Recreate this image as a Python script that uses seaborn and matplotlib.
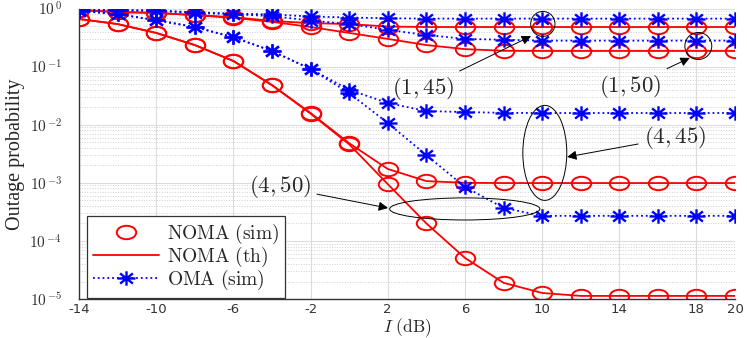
import numpy as np
import pandas as pd
import matplotlib
matplotlib.use("Agg")
import matplotlib.pyplot as plt
import seaborn as sns
from matplotlib.lines import Line2D
from matplotlib.patches import Ellipse
from matplotlib.path import Path
from matplotlib.transforms import Affine2D
from matplotlib.ticker import FixedLocator, LogLocator, NullFormatter

# --- data ---
I_db = [-14, -12, -10, -8, -6, -4, -2, 0, 2, 4, 6, 8, 10, 12, 14, 16, 18, 20]

noma_1_45 = [0.94, 0.87, 0.84, 0.77, 0.71, 0.61, 0.56, 0.54, 0.49, 0.48,
             0.48, 0.48, 0.48, 0.48, 0.48, 0.48, 0.48, 0.48]
noma_1_50 = [0.94, 0.87, 0.84, 0.77, 0.69, 0.59, 0.48, 0.38, 0.30, 0.235,
             0.20, 0.187, 0.186, 0.186, 0.186, 0.186, 0.186, 0.186]
noma_4_45 = [0.66, 0.54, 0.38, 0.235, 0.125, 0.048, 0.0159, 0.0048, 0.00173, 0.00107,
             0.00100, 0.00099, 0.00099, 0.00099, 0.00099, 0.00099, 0.00099, 0.00099]
noma_4_50 = [0.66, 0.54, 0.38, 0.235, 0.125, 0.048, 0.0155, 0.0046, 0.00095, 0.000200,
             5.1e-5, 1.9e-5, 1.27e-5, 1.13e-5, 1.13e-5, 1.13e-5, 1.13e-5, 1.13e-5]

oma_1_45 = [0.95, 0.94, 0.93, 0.86, 0.82, 0.79, 0.73, 0.70, 0.68, 0.67,
            0.67, 0.67, 0.67, 0.67, 0.67, 0.67, 0.67, 0.67]
oma_1_50 = [0.94, 0.93, 0.91, 0.84, 0.80, 0.74, 0.62, 0.54, 0.43, 0.35,
            0.30, 0.29, 0.28, 0.28, 0.28, 0.28, 0.28, 0.28]
oma_4_45 = [0.91, 0.80, 0.63, 0.48, 0.32, 0.186, 0.091, 0.040, 0.0236, 0.0172,
            0.0165, 0.0160, 0.0159, 0.0159, 0.0159, 0.0159, 0.0159, 0.0159]
oma_4_50 = [0.91, 0.80, 0.63, 0.48, 0.32, 0.186, 0.091, 0.035, 0.0107, 0.0030,
            0.00085, 0.00037, 0.00027, 0.00027, 0.00027, 0.00027, 0.00027, 0.00027]

x_ticks = [-14, -10, -6, -2, 2, 6, 10, 14, 18, 20]

# --- style ---
sns.set_style("whitegrid")
plt.rcParams['font.family'] = ['DejaVu Sans']
plt.rcParams['mathtext.fontset'] = 'cm'

RED = '#ff0000'
BLUE = '#0000ff'

# the reference is stretched sideways, so circles look like flat ellipses
OVAL = Path.unit_circle().transformed(Affine2D().scale(1.45, 1.0))
ang = np.deg2rad([0, 45, 90, 135])
star_verts = []
for a in ang:
    dx, dy = 1.25 * np.cos(a), np.sin(a)
    star_verts += [(-dx, -dy), (dx, dy)]
STAR = Path(star_verts, [Path.MOVETO, Path.LINETO] * 4)

fig = plt.figure(figsize=(7.47, 3.38), dpi=100)
ax = fig.add_axes([0.1058, 0.1154, 0.8782, 0.8594])

# NOMA: simulated ovals on top of the theory line
for series in [noma_1_45, noma_1_50, noma_4_45, noma_4_50]:
    sns.lineplot(x=I_db, y=series, ax=ax, color=RED, linewidth=1.3,
                 marker=OVAL, markersize=14, markerfacecolor='none',
                 markeredgecolor=RED, markeredgewidth=1.4)

# OMA simulated
for series in [oma_1_45, oma_1_50, oma_4_45, oma_4_50]:
    sns.lineplot(x=I_db, y=series, ax=ax, color=BLUE, linewidth=1.3,
                 linestyle=':', marker=STAR, markersize=13,
                 markeredgecolor=BLUE, markeredgewidth=1.7)

ax.set_yscale('log')
ax.set_xlim(-14, 20)
ax.set_ylim(1e-5, 1)

ax.xaxis.set_major_locator(FixedLocator(x_ticks))
ax.set_xticklabels([str(t) for t in x_ticks])
ax.yaxis.set_major_locator(FixedLocator([1e-5, 1e-4, 1e-3, 1e-2, 1e-1, 1]))
ax.set_yticklabels([r'$\mathsf{10}^{\,\mathsf{%d}}$' % e for e in [-5, -4, -3, -2, -1, 0]])
ax.yaxis.set_minor_locator(LogLocator(base=10, subs=np.arange(2, 10), numticks=20))
ax.yaxis.set_minor_formatter(NullFormatter())

ax.grid(True, which='major', color='#dcdcdc', linewidth=0.8, linestyle='-')
ax.grid(True, which='minor', axis='y', color='#d0d0d0', linewidth=0.7, linestyle=':')
ax.tick_params(axis='both', which='both', direction='in', colors='#333333', length=4)
ax.tick_params(axis='x', labelsize=9.5, pad=3)
ax.tick_params(axis='y', labelsize=11, pad=12)
ax.tick_params(axis='y', which='minor', length=2)

for side in ['top', 'right']:
    ax.spines[side].set_visible(False)
for side in ['left', 'bottom']:
    ax.spines[side].set_color('#333333')
    ax.spines[side].set_linewidth(1.0)

ax.set_xlabel(r'$I\ \mathrm{(dB)}$', fontsize=12.5, va='center')
ax.xaxis.set_label_coords(0.5, -0.097)
ax.set_ylabel('Outage probability', fontsize=14.5, labelpad=3)
ax.yaxis.label.set_family(['Liberation Serif'])

# --- legend ---
handles = [
    Line2D([], [], color=RED, linestyle='none', marker=OVAL, markersize=14,
           markerfacecolor='none', markeredgewidth=1.4),
    Line2D([], [], color=RED, linewidth=1.3),
    Line2D([], [], color=BLUE, linestyle=':', linewidth=1.3, marker=STAR,
           markersize=13, markeredgewidth=1.7),
]
labels = [r'$\mathrm{NOMA\ (sim)}$', r'$\mathrm{NOMA\ (th)}$', r'$\mathrm{OMA\ (sim)}$']
leg = ax.legend(handles, labels, loc='lower left', bbox_to_anchor=(0.012, 0.004),
                fontsize=14, frameon=True, fancybox=False, framealpha=1,
                edgecolor='#333333', borderaxespad=0, handlelength=3.4,
                labelspacing=-0.05, borderpad=0.3, handletextpad=0.4)
leg.get_frame().set_linewidth(0.9)

# --- ellipses and annotations (axes fraction) ---
ellipses = [
    ((0.707, 0.947), 0.037, 0.086),
    ((0.944, 0.871), 0.041, 0.093),
    ((0.710, 0.503), 0.067, 0.327),
    ((0.588, 0.310), 0.229, 0.076),
]
for center, w, h in ellipses:
    ax.add_patch(Ellipse(center, w, h, transform=ax.transAxes, fill=False,
                         edgecolor='black', linewidth=0.7, zorder=5))

notes = [
    (r'$(1,45)$', (0.689, 0.905), (0.524, 0.723)),
    (r'$(1,50)$', (0.931, 0.830), (0.840, 0.733)),
    (r'$(4,45)$', (0.744, 0.489), (0.909, 0.557)),
    (r'$(4,50)$', (0.471, 0.313), (0.306, 0.386)),
]
for text, xy, xytext in notes:
    ax.annotate(text, xy=xy, xytext=xytext, xycoords='axes fraction',
                textcoords='axes fraction', fontsize=16.5, ha='center', va='center',
                arrowprops=dict(arrowstyle='-|>', color='black', lw=0.7,
                                mutation_scale=14, shrinkA=2, shrinkB=0),
                zorder=6)

plt.savefig('out.png', dpi=100)
